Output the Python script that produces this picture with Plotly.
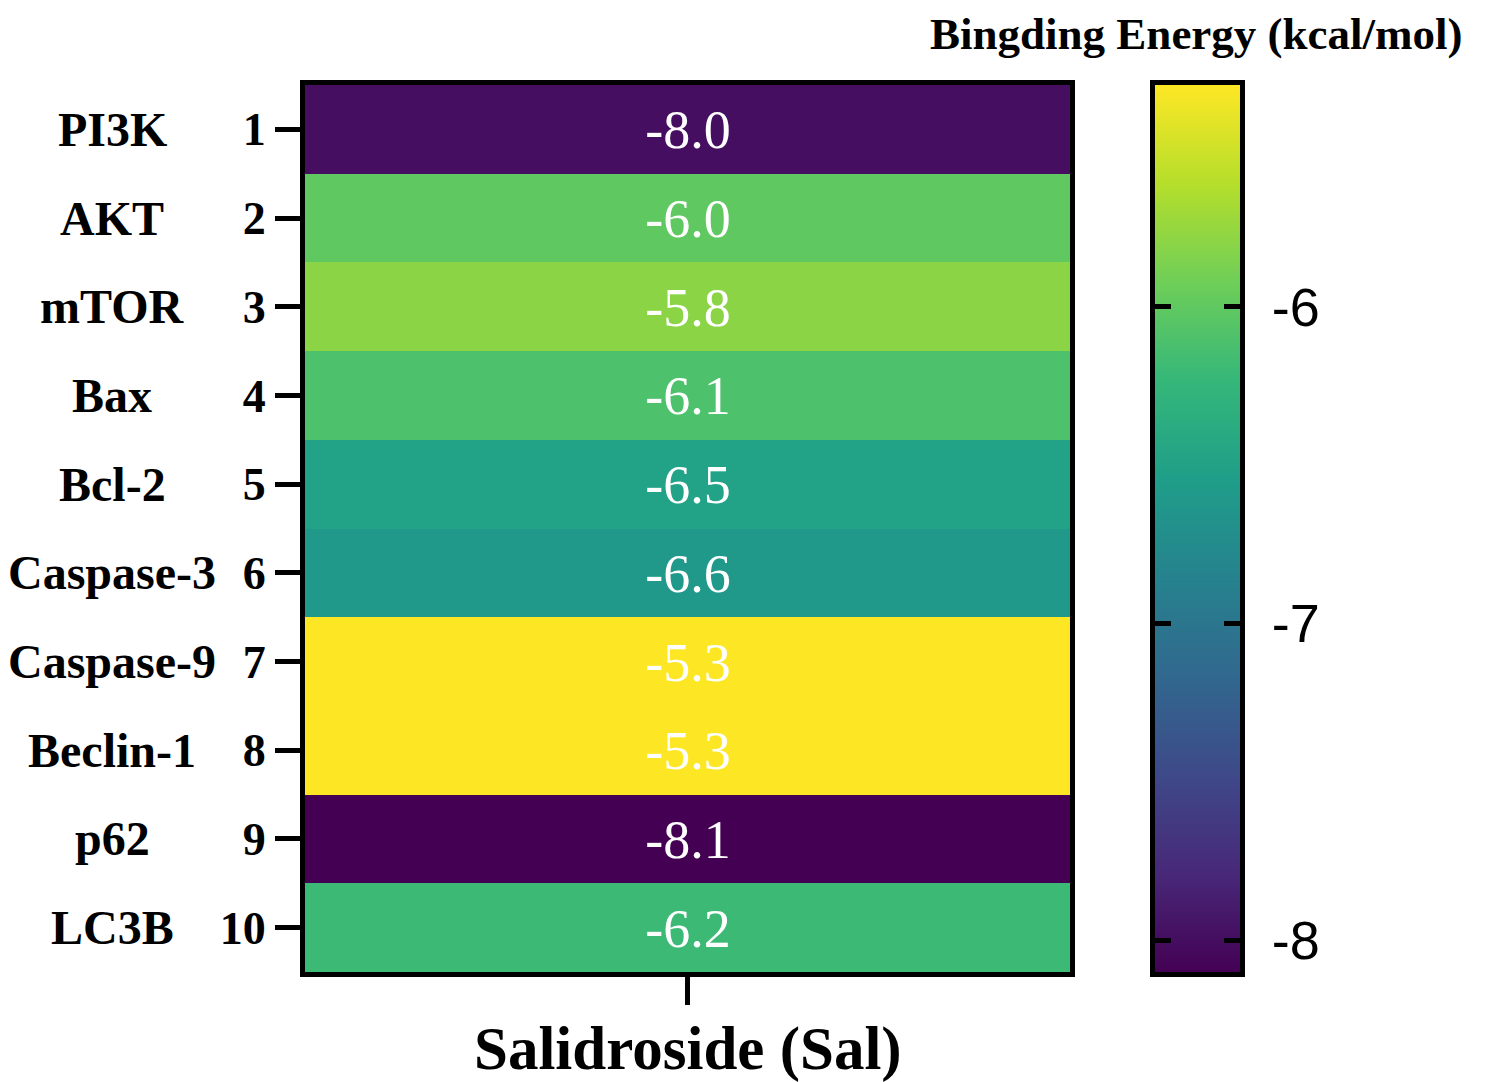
import plotly.graph_objects as go

proteins = ["PI3K", "AKT", "mTOR", "Bax", "Bcl-2", "Caspase-3", "Caspase-9", "Beclin-1", "p62", "LC3B"]
row_numbers = ["1", "2", "3", "4", "5", "6", "7", "8", "9", "10"]
compound = ["Salidroside (Sal)"]
energies = [-8.0, -6.0, -5.8, -6.1, -6.5, -6.6, -5.3, -5.3, -8.1, -6.2]
cbar_ticks = [-6, -7, -8]
zmin, zmax = -8.1, -5.3

W, H = 1487, 1082
serif = "Liberation Serif"
sans = "Liberation Sans"


def px_x(v):
    return v / W


def px_y(v):
    return 1 - v / H


PLOT_L, PLOT_R, PLOT_T, PLOT_B = 305, 1070, 85, 972
CB_L, CB_R = 1155, 1240

fig = go.Figure()
fig.add_trace(go.Heatmap(
    x=compound,
    y=row_numbers,
    z=[[v] for v in energies],
    colorscale="Viridis",
    zmin=zmin, zmax=zmax,
    showscale=False,
    texttemplate="%{z:.1f}",
    textfont=dict(family=serif, size=54, color="white"),
    xaxis="x", yaxis="y",
))

# colour scale bar drawn on its own axes
fig.add_trace(go.Heatmap(
    x=[0, 1],
    y=[zmin, zmax],
    z=[[zmin, zmin], [zmax, zmax]],
    zsmooth="best",
    colorscale="Viridis",
    zmin=zmin, zmax=zmax,
    showscale=False,
    hoverinfo="skip",
    xaxis="x2", yaxis="y2",
))

# protein name labels
for i, p in enumerate(proteins):
    fig.add_annotation(x=px_x(112), xref="paper", y=i, yref="y",
                       text="<b>%s</b>" % p, showarrow=False, xanchor="center",
                       font=dict(family=serif, size=48, color="black"))

# x category label
fig.add_annotation(x=compound[0], xref="x", y=px_y(1049), yref="paper",
                   text="<b>%s</b>" % compound[0], showarrow=False,
                   xanchor="center", yanchor="middle",
                   font=dict(family=serif, size=61, color="black"))

fig.add_annotation(x=px_x(1196), xref="paper", y=px_y(34), yref="paper",
                   text="<b>Bingding Energy (kcal/mol)</b>", showarrow=False,
                   xanchor="center", yanchor="middle",
                   font=dict(family=serif, size=45, color="black"))

fig.update_layout(
    width=W, height=H,
    margin=dict(l=0, r=0, t=0, b=0, autoexpand=False),
    paper_bgcolor="white", plot_bgcolor="white",
    xaxis=dict(domain=[px_x(PLOT_L), px_x(PLOT_R)], anchor="y",
               showline=True, mirror=True, linewidth=5, linecolor="black",
               ticks="outside", ticklen=28, tickwidth=5, tickcolor="black",
               showticklabels=False, showgrid=False, zeroline=False),
    yaxis=dict(domain=[px_y(PLOT_B), px_y(PLOT_T)], anchor="x",
               type="category", autorange="reversed", showline=True, mirror=True,
               linewidth=5, linecolor="black",
               ticks="outside", ticklen=25, tickwidth=5, tickcolor="black",
               ticklabelstandoff=0,
               tickfont=dict(family=serif, size=46, color="black"),
               tickprefix="<b>", ticksuffix="</b>", showgrid=False, zeroline=False),
    xaxis2=dict(domain=[px_x(CB_L), px_x(CB_R)], anchor="y2", range=[0, 1],
                showline=True, mirror=True, linewidth=5, linecolor="black",
                showticklabels=False, ticks="", showgrid=False, zeroline=False),
    yaxis2=dict(domain=[px_y(PLOT_B), px_y(PLOT_T)], anchor="x2", side="right",
                range=[zmin, zmax], tickvals=cbar_ticks,
                ticktext=[str(t) for t in cbar_ticks],
                showline=True, mirror="ticks", linewidth=5, linecolor="black",
                ticks="inside", ticklen=16, tickwidth=5, tickcolor="black",
                ticklabelstandoff=16,
                tickfont=dict(family=sans, size=54, color="black"),
                showgrid=False, zeroline=False),
)

fig.write_html("out.html", config={"displayModeBar": False},
               post_script="document.body.style.margin='0';document.body.style.overflow='hidden';")
